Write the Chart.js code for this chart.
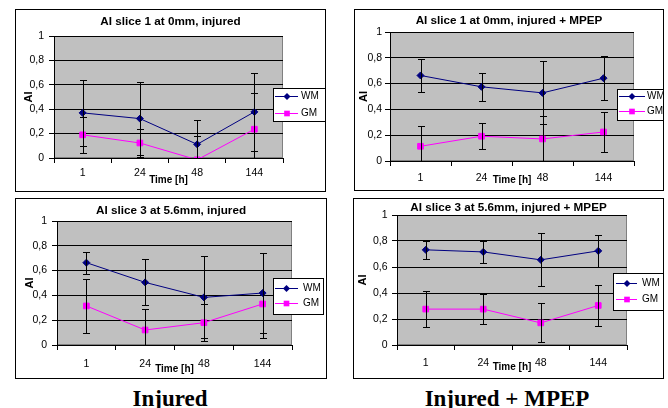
<!DOCTYPE html>
<html><head><meta charset="utf-8">
<script src="https://cdn.jsdelivr.net/npm/chart.js@4"></script>
<style>
html,body{margin:0;padding:0;background:#fff;}
#page{position:relative;width:668px;height:408px;overflow:hidden;background:#fff;}
.frame{position:absolute;border:1px solid #000;box-sizing:border-box;}
.frame canvas{position:absolute;left:0;top:0;}
.caption{position:absolute;font-family:"Liberation Serif","Times New Roman",serif;font-weight:bold;font-size:23px;line-height:23px;white-space:nowrap;text-align:center;color:#000;}
</style></head>
<body><div id="page">
<div class="frame" id="f1"><canvas id="c1"></canvas></div>
<div class="frame" id="f2"><canvas id="c2"></canvas></div>
<div class="frame" id="f3"><canvas id="c3"></canvas></div>
<div class="frame" id="f4"><canvas id="c4"></canvas></div>
<div class="caption" style="left:70px;width:200px;top:387px">Injured</div>
<div class="caption" style="left:407px;width:200px;top:387px">Injured + MPEP</div>
</div>
<script>
// ---------- data ----------
const categories = ['1', '24', '48', '144'];
const yTickLabels = ['0', '0,2', '0,4', '0,6', '0,8', '1'];
const seriesNames = ['WM', 'GM'];
const chartTitles = [
  'AI slice 1 at 0mm, injured',
  'AI slice 1 at 0mm, injured + MPEP',
  'AI slice 3 at 5.6mm, injured',
  'AI slice 3 at 5.6mm, injured + MPEP'
];
const xTitle = 'Time [h]';
const yTitle = 'AI';

// slice 1, injured
const wmS1Inj = [0.37, 0.323, 0.112, 0.378];
const wmS1InjErr = [0.27, 0.30, 0.20, 0.32];
const gmS1Inj = [0.19, 0.123, -0.015, 0.236];
const gmS1InjErr = [0.15, 0.112, 0.195, 0.295];
// slice 1, injured + MPEP
const wmS1Mpep = [0.663, 0.575, 0.528, 0.642];
const wmS1MpepErr = [0.13, 0.11, 0.244, 0.17];
const gmS1Mpep = [0.114, 0.192, 0.171, 0.225];
const gmS1MpepErr = [0.155, 0.10, 0.18, 0.155];
// slice 3, injured
const wmS3Inj = [0.664, 0.505, 0.384, 0.419];
const wmS3InjErr = [0.09, 0.185, 0.33, 0.325];
const gmS3Inj = [0.315, 0.121, 0.18, 0.331];
const gmS3InjErr = [0.22, 0.167, 0.15, 0.275];
// slice 3, injured + MPEP
const wmS3Mpep = [0.732, 0.716, 0.655, 0.724];
const wmS3MpepErr = [0.068, 0.084, 0.204, 0.125];
const gmS3Mpep = [0.276, 0.276, 0.17, 0.304];
const gmS3MpepErr = [0.14, 0.113, 0.15, 0.16];

// ---------- layout / style ----------
const SANS = '"Liberation Sans", Arial, Helvetica, sans-serif';
const WM_COLOR = '#000080';
const GM_COLOR = '#ff00ff';

const panels = [
  { canvas: 'c1', frame: 'f1', fl: 15, ft: 9, fw: 311, fh: 183,
    yw: 38, rw: 42, xh: 33, tPadT: 6.15, tPadB: 8.15, yPad: 5, ytPad: 7.5, xPad: 4, xtPad: 6,
    legend: { x: 257, y: 78, w: 52, h: 33, r1: 8, r2: 25, l0: 2, l1: 25, m: 14, t: 28 },
    wm: wmS1Inj, wmErr: wmS1InjErr, gm: gmS1Inj, gmErr: gmS1InjErr, title: chartTitles[0] },
  { canvas: 'c2', frame: 'f2', fl: 354, ft: 9, fw: 310, fh: 182,
    yw: 35, rw: 29, xh: 29, tPadT: 5.15, tPadB: 5.15, yPad: 3, ytPad: 3.5, xPad: 5.5, xtPad: 5,
    legend: { x: 262, y: 79, w: 46, h: 31, r1: 6.5, r2: 21.5, l0: 2, l1: 28, m: 15, t: 30 },
    wm: wmS1Mpep, wmErr: wmS1MpepErr, gm: gmS1Mpep, gmErr: gmS1MpepErr, title: chartTitles[1] },
  { canvas: 'c3', frame: 'f3', fl: 15, ft: 198, fw: 312, fh: 181,
    yw: 41, rw: 34, xh: 33, tPadT: 6.15, tPadB: 4.15, yPad: 5, ytPad: 8.5, xPad: 7.5, xtPad: 4,
    legend: { x: 257, y: 79, w: 50, h: 36, r1: 10, r2: 25, l0: 2, l1: 25, m: 13.5, t: 30 },
    wm: wmS3Inj, wmErr: wmS3InjErr, gm: gmS3Inj, gmErr: gmS3InjErr, title: chartTitles[2] },
  { canvas: 'c4', frame: 'f4', fl: 353, ft: 198, fw: 311, fh: 181,
    yw: 43, rw: 36, xh: 33, tPadT: 3.15, tPadB: 1.15, yPad: 4.5, ytPad: 3.5, xPad: 6.5, xtPad: 5.75,
    legend: { x: 259, y: 74, w: 51, h: 37, r1: 9.5, r2: 26, l0: 3, l1: 24, m: 14, t: 29 },
    wm: wmS3Mpep, wmErr: wmS3MpepErr, gm: gmS3Mpep, gmErr: gmS3MpepErr, title: chartTitles[3] }
];

// ---------- plugins ----------
const plotBgPlugin = {
  id: 'plotBg',
  beforeDraw(chart) {
    const { ctx, chartArea: a } = chart;
    ctx.save();
    ctx.fillStyle = '#c0c0c0';
    ctx.fillRect(a.left, a.top, a.right - a.left, a.bottom - a.top);
    ctx.strokeStyle = '#808080';
    ctx.lineWidth = 1;
    ctx.strokeRect(a.left + 0.5, a.top + 0.5, a.right - a.left - 1, a.bottom - a.top - 1);
    ctx.restore();
  }
};

const errorBarPlugin = {
  id: 'errorBars',
  afterDatasetsDraw(chart) {
    const { ctx, chartArea: a } = chart;
    const y = chart.scales.y;
    ctx.save();
    ctx.beginPath();
    ctx.rect(a.left, a.top - 1, a.right - a.left, a.bottom - a.top + 2);
    ctx.clip();
    ctx.strokeStyle = '#000';
    ctx.lineWidth = 1;
    chart.data.datasets.forEach((ds, i) => {
      const meta = chart.getDatasetMeta(i);
      ds.errors.forEach((e, j) => {
        const pt = meta.data[j];
        const x = Math.round(pt.x) + 0.5;
        const v = ds.data[j];
        const yt = Math.round(y.getPixelForValue(v + e)) + 0.5;
        const yb = Math.round(y.getPixelForValue(v - e)) + 0.5;
        ctx.beginPath();
        ctx.moveTo(x, yt); ctx.lineTo(x, yb);
        ctx.moveTo(x - 3.5, yt); ctx.lineTo(x + 3.5, yt);
        ctx.moveTo(x - 3.5, yb); ctx.lineTo(x + 3.5, yb);
        ctx.stroke();
      });
    });
    ctx.restore();
  }
};

const boxLegendPlugin = {
  id: 'boxLegend',
  afterDraw(chart, args, o) {
    const ctx = chart.ctx;
    ctx.save();
    ctx.fillStyle = '#fff';
    ctx.fillRect(o.x, o.y, o.w, o.h);
    ctx.strokeStyle = '#000';
    ctx.lineWidth = 1;
    ctx.strokeRect(o.x + 0.5, o.y + 0.5, o.w, o.h);
    chart.data.datasets.forEach((ds, i) => {
      const ry = Math.round(o.y + (i === 0 ? o.r1 : o.r2)) + 0.5;
      ctx.strokeStyle = ds.borderColor;
      ctx.beginPath();
      ctx.moveTo(o.x + o.l0, ry); ctx.lineTo(o.x + o.l1, ry);
      ctx.stroke();
      const mx = o.x + o.m;
      ctx.fillStyle = ds.backgroundColor;
      ctx.beginPath();
      if (ds.pointStyle === 'rectRot') {
        const r = ds.pointRadius;
        ctx.moveTo(mx, ry - r); ctx.lineTo(mx + r, ry); ctx.lineTo(mx, ry + r); ctx.lineTo(mx - r, ry);
        ctx.closePath();
      } else {
        const s = ds.pointRadius * Math.SQRT1_2;
        ctx.rect(mx - s, ry - s, 2 * s, 2 * s);
      }
      ctx.fill();
      ctx.fillStyle = '#000';
      ctx.font = '10px ' + SANS;
      ctx.textBaseline = 'middle';
      ctx.textAlign = 'left';
      ctx.fillText(ds.label, o.x + o.t, ry);
    });
    ctx.restore();
  }
};

// ---------- build charts ----------
panels.forEach(p => {
  const f = document.getElementById(p.frame);
  f.style.left = p.fl + 'px'; f.style.top = p.ft + 'px';
  f.style.width = p.fw + 'px'; f.style.height = p.fh + 'px';
  const el = document.getElementById(p.canvas);
  el.width = p.fw - 2; el.height = p.fh - 2;
  el.style.width = (p.fw - 2) + 'px'; el.style.height = (p.fh - 2) + 'px';

  new Chart(el, {
    type: 'line',
    data: {
      labels: categories,
      datasets: [
        { label: seriesNames[0], data: p.wm, errors: p.wmErr, yAxisID: 'y',
          borderColor: WM_COLOR, backgroundColor: WM_COLOR, borderWidth: 1,
          pointStyle: 'rectRot', pointRadius: 3.5, pointBorderWidth: 1,
          pointBackgroundColor: WM_COLOR, pointBorderColor: WM_COLOR, tension: 0, clip: 0 },
        { label: seriesNames[1], data: p.gm, errors: p.gmErr, yAxisID: 'y',
          borderColor: GM_COLOR, backgroundColor: GM_COLOR, borderWidth: 1,
          pointStyle: 'rect', pointRadius: 4, pointBorderWidth: 1,
          pointBackgroundColor: GM_COLOR, pointBorderColor: GM_COLOR, tension: 0, clip: 0 }
      ]
    },
    options: {
      responsive: false, animation: false, devicePixelRatio: 1,
      layout: { padding: 0 },
      plugins: {
        legend: { display: false },
        tooltip: { enabled: false },
        title: { display: true, text: p.title, color: '#000',
          font: { family: SANS, size: 11.7, weight: 'bold', lineHeight: 1 },
          padding: { top: p.tPadT, bottom: p.tPadB } },
        boxLegend: p.legend
      },
      scales: {
        x: {
          type: 'category', offset: true,
          grid: { offset: true, drawOnChartArea: false, drawTicks: true, tickLength: 5, color: '#000', lineWidth: 1 },
          border: { display: true, color: '#000', width: 1 },
          ticks: { color: '#000', font: { family: SANS, size: 10.5, lineHeight: 1.2 }, padding: p.xPad, maxRotation: 0, autoSkip: false },
          title: { display: true, text: xTitle, color: '#000',
            font: { family: SANS, size: 10, weight: 'bold', lineHeight: 1 },
            padding: { top: 0, bottom: p.xtPad } },
          afterFit(s) { s.height = p.xh; }
        },
        y: {
          type: 'linear', position: 'left', min: 0, max: 1,
          ticks: { stepSize: 0.2, callback: (v, i) => yTickLabels[i], color: '#000',
            font: { family: SANS, size: 10.5, lineHeight: 1.2 }, padding: p.yPad },
          grid: { color: '#000', lineWidth: 1, tickLength: 5 },
          border: { display: true, color: '#000', width: 1 },
          title: { display: true, text: yTitle, color: '#000',
            font: { family: SANS, size: 11, weight: 'bold', lineHeight: 1 },
            padding: { top: p.ytPad, bottom: 0 } },
          afterFit(s) { s.width = p.yw; }
        },
        y2: {
          type: 'linear', position: 'right', display: true,
          grid: { display: false }, ticks: { display: false }, border: { display: false },
          afterFit(s) { s.width = p.rw; }
        }
      }
    },
    plugins: [plotBgPlugin, errorBarPlugin, boxLegendPlugin]
  });
});
</script>
</body></html>
